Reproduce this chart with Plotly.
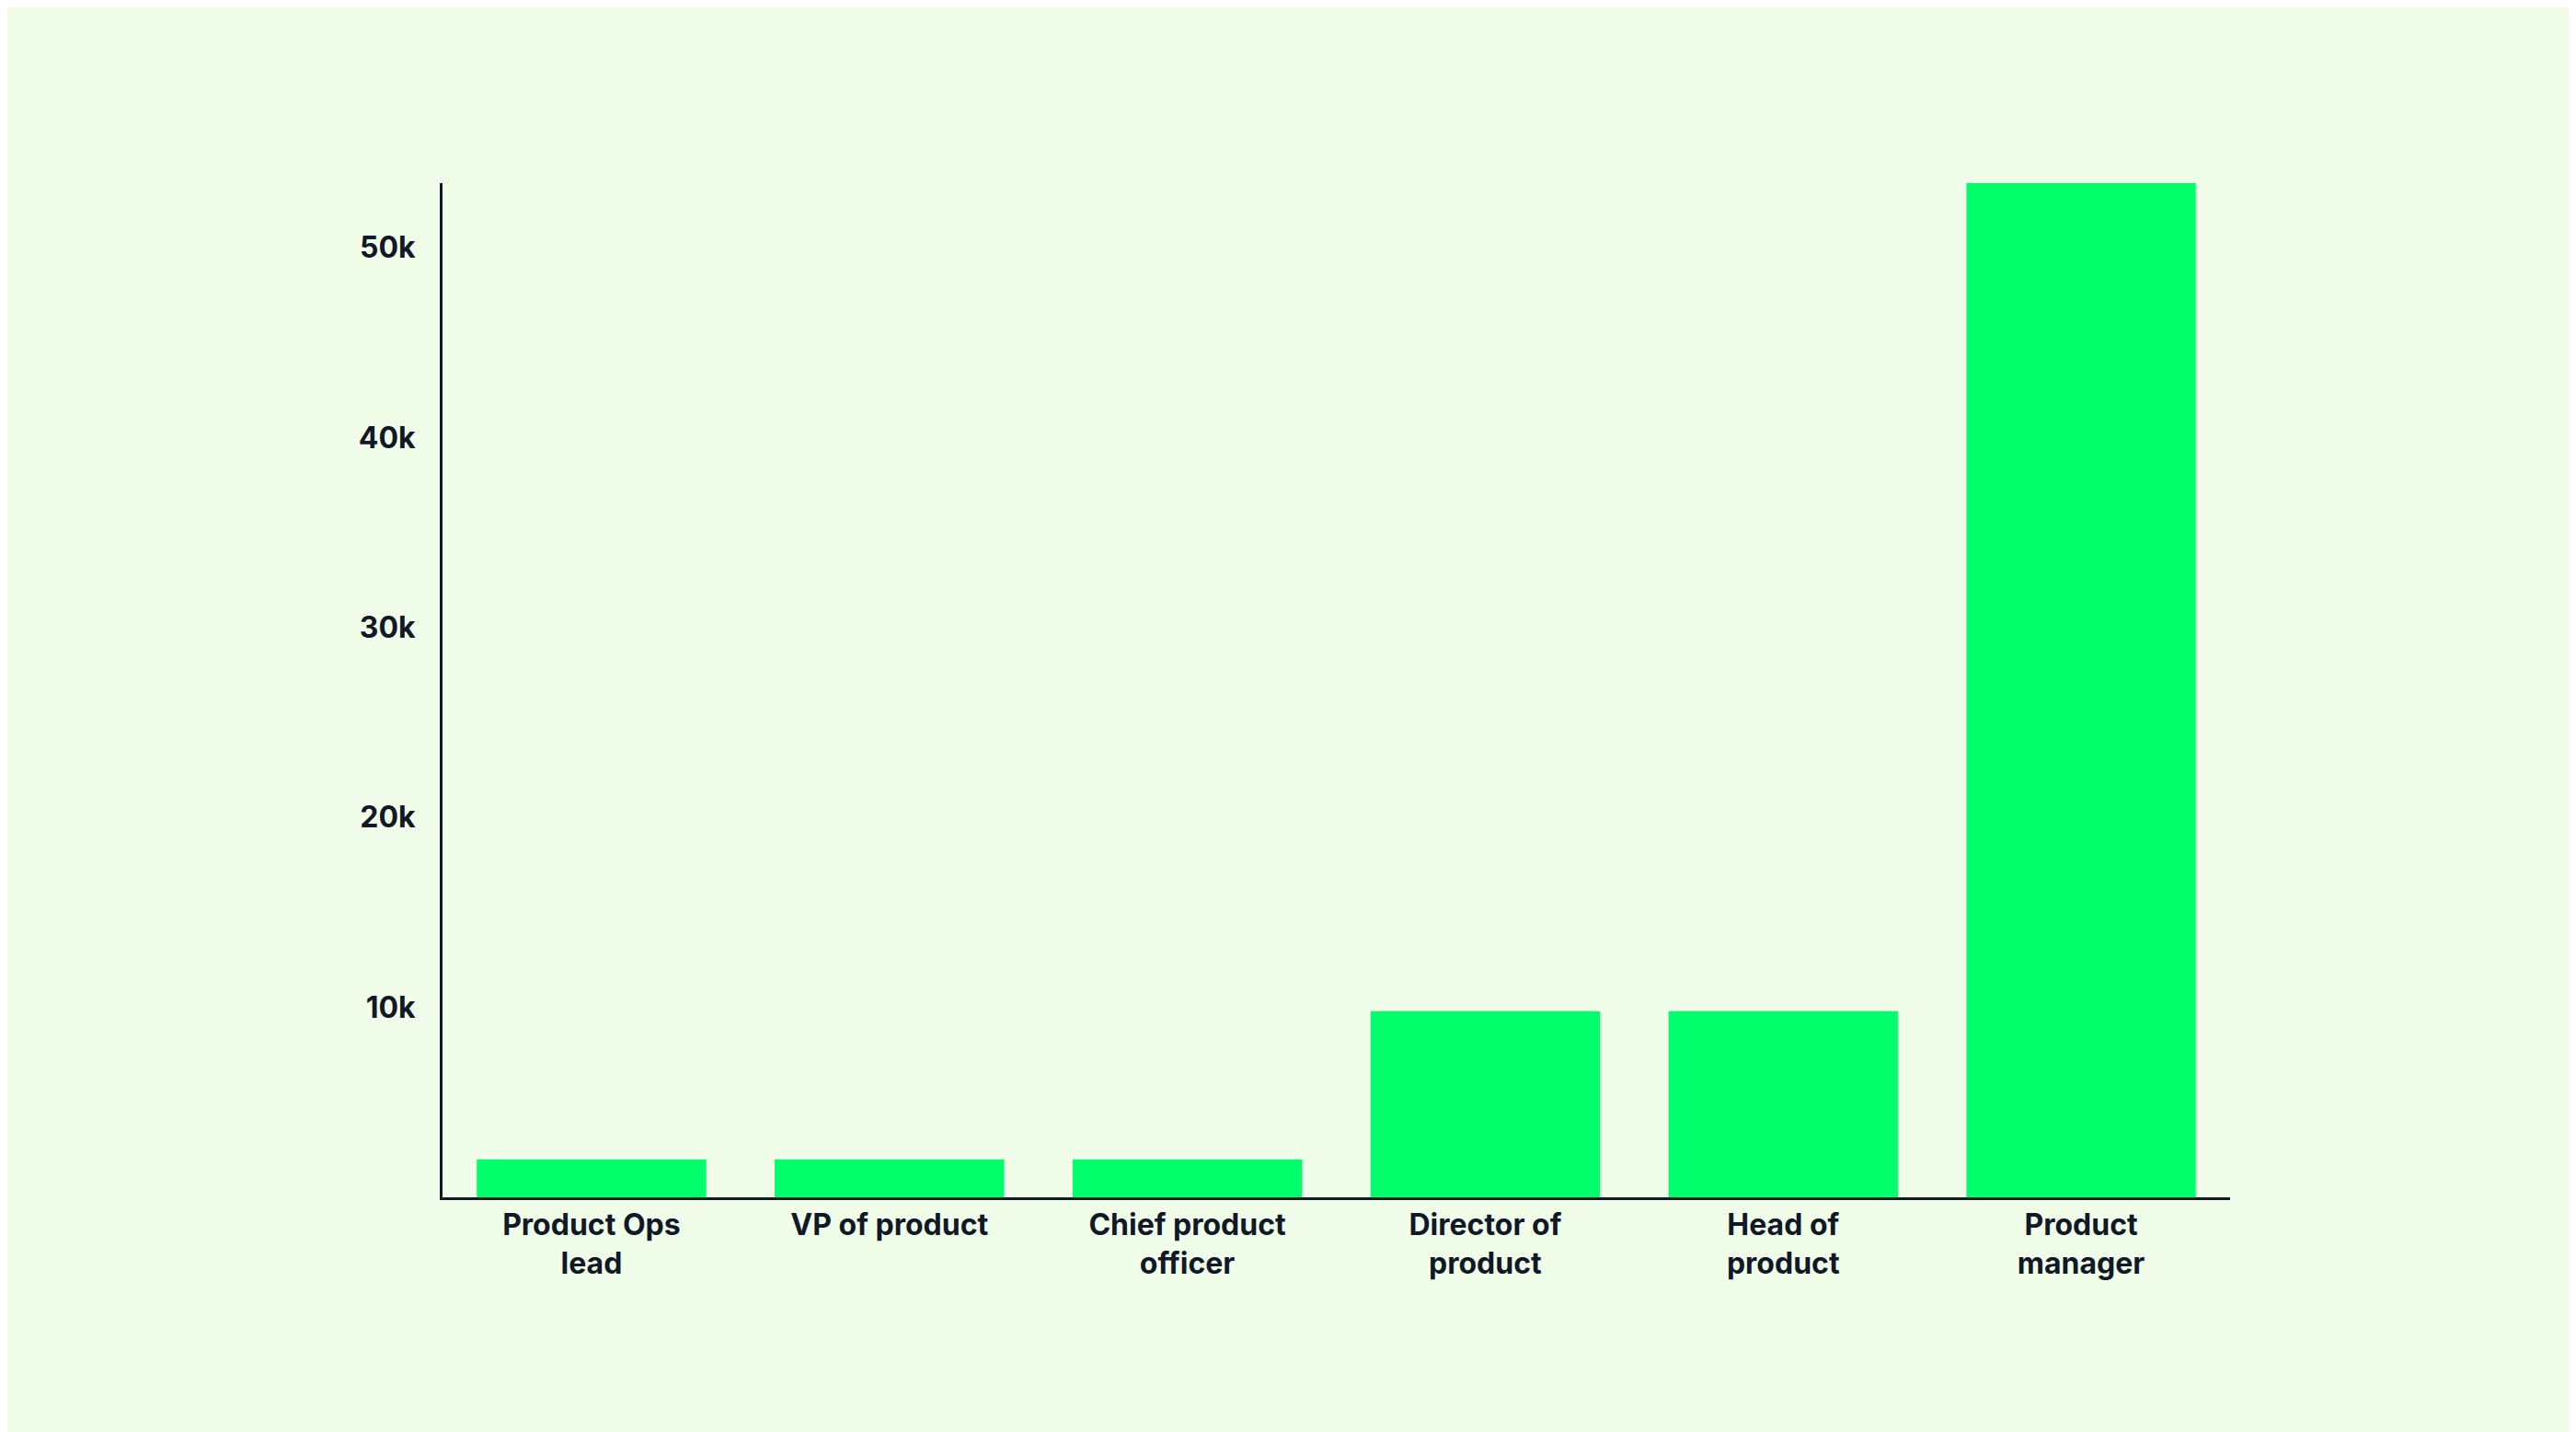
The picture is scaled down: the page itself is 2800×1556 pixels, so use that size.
import plotly.graph_objects as go

roles = ["Product Ops<br>lead", "VP of product", "Chief product<br>officer",
         "Director of<br>product", "Head of<br>product", "Product<br>manager"]
counts = [2000, 2000, 2000, 9800, 9800, 53400]
tick_vals = [10000, 20000, 30000, 40000, 50000]
tick_text = ["10k", "20k", "30k", "40k", "50k"]

fig = go.Figure(go.Bar(x=roles, y=counts, marker_color="#00ff6a",
                       marker_line_width=0))

fig.update_layout(
    width=2800, height=1556,
    paper_bgcolor="#effde9", plot_bgcolor="#effde9",
    margin=dict(l=473, r=384, t=191, b=263),
    bargap=0.23,
    showlegend=False,
    font=dict(family="Inter", size=32, color="#111827"),
)
fig.update_xaxes(showline=True, linecolor="#111827", linewidth=3,
                 showgrid=False, ticks="", tickfont=dict(size=32, weight="bold"))
fig.update_yaxes(range=[0, 53400], showline=True, linecolor="#111827", linewidth=3,
                 showgrid=False, zeroline=False, ticks="",
                 tickvals=tick_vals, ticktext=tick_text, ticklabelstandoff=20,
                 tickfont=dict(size=32, weight="bold"))

fig.write_html("out.html")
